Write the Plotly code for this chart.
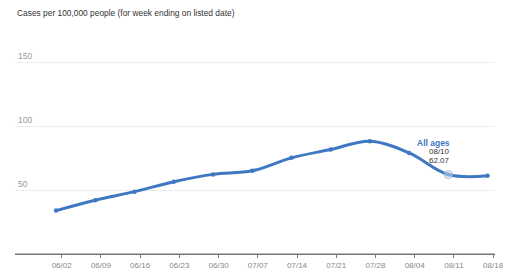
import plotly.graph_objects as go

dates = ["2024-06-01", "2024-06-08", "2024-06-15", "2024-06-22", "2024-06-29", "2024-07-06",
         "2024-07-13", "2024-07-20", "2024-07-27", "2024-08-03", "2024-08-10", "2024-08-17"]
cases = [33.9, 42.0, 48.7, 56.5, 62.2, 65.0, 75.1, 81.6, 88.1, 79.0, 62.07, 61.1]
tick_dates = ["2024-06-02", "2024-06-09", "2024-06-16", "2024-06-23", "2024-06-30", "2024-07-07",
              "2024-07-14", "2024-07-21", "2024-07-28", "2024-08-04", "2024-08-11", "2024-08-18"]
tick_labels = ["06/02", "06/09", "06/16", "06/23", "06/30", "07/07",
               "07/14", "07/21", "07/28", "08/04", "08/11", "08/18"]
y_ticks = [50, 100, 150]
series_name = "All ages"
hover_idx = 10

BLUE = "#3f78c2"
FONT = "Liberation Sans, Arial, Helvetica, sans-serif"

fig = go.Figure()
fig.add_trace(go.Scatter(
    x=dates, y=cases, mode="lines+markers",
    line=dict(color=BLUE, width=3, shape="spline", smoothing=1.0),
    marker=dict(color=BLUE, size=4.5),
    name=series_name, hoverinfo="skip",
))
fig.add_trace(go.Scatter(
    x=[dates[hover_idx]], y=[cases[hover_idx]], mode="markers",
    marker=dict(color="rgba(255,255,255,0.35)", size=8, symbol="circle",
                line=dict(color="#9ab2d4", width=1)),
    hoverinfo="skip", showlegend=False,
))

hd = dates[hover_idx]
fig.add_annotation(x=hd, y=cases[hover_idx], xref="x", yref="y",
                   text="<b>%s</b>" % series_name, showarrow=False,
                   xanchor="right", yanchor="middle", xshift=4, yshift=32,
                   font=dict(family=FONT, size=8.5, color=BLUE))
fig.add_annotation(x=hd, y=cases[hover_idx], xref="x", yref="y",
                   text="%s/%s" % (hd[5:7], hd[8:10]), showarrow=False,
                   xanchor="right", yanchor="middle", xshift=4, yshift=23,
                   font=dict(family=FONT, size=8, color="#333333"))
fig.add_annotation(x=hd, y=cases[hover_idx], xref="x", yref="y",
                   text="%.2f" % cases[hover_idx], showarrow=False,
                   xanchor="right", yanchor="middle", xshift=4, yshift=14,
                   font=dict(family=FONT, size=8, color="#333333"))

fig.add_annotation(x=0, y=1, xref="paper", yref="paper", xanchor="left", yanchor="middle",
                   text="Cases per 100,000 people (for week ending on listed date)",
                   showarrow=False, yshift=17,
                   font=dict(family=FONT, size=8.4, color="#333333"))

# axis baseline along the bottom edge of the plot area
fig.add_shape(type="line", xref="paper", yref="paper", x0=0, x1=1, y0=0, y1=0,
              line=dict(color="#777777", width=1.2), layer="above")

fig.update_layout(
    width=512, height=280,
    margin=dict(l=15, r=17, t=30, b=26),
    paper_bgcolor="white", plot_bgcolor="white",
    showlegend=False,
    font=dict(family=FONT),
    xaxis=dict(
        range=["2024-05-24 16:00", "2024-08-18 08:00"],
        tickvals=tick_dates, ticktext=tick_labels,
        showgrid=False, zeroline=False,
        showline=True, linecolor="#777777", linewidth=1.2,
        ticks="outside", ticklen=3, tickcolor="#777777", tickwidth=1,
        tickfont=dict(family=FONT, size=8, color="#888888"),
        automargin=False,
        fixedrange=True,
    ),
    yaxis=dict(
        range=[0, 175],
        tickvals=y_ticks, ticktext=[str(v) for v in y_ticks],
        showgrid=True, gridcolor="#eeeeee", gridwidth=1,
        zeroline=False, showline=False, ticks="",
        ticklabelposition="inside top",
        tickfont=dict(family=FONT, size=8.5, color="#999999"),
        automargin=False,
        fixedrange=True,
    ),
)

fig.write_html("out.html")
